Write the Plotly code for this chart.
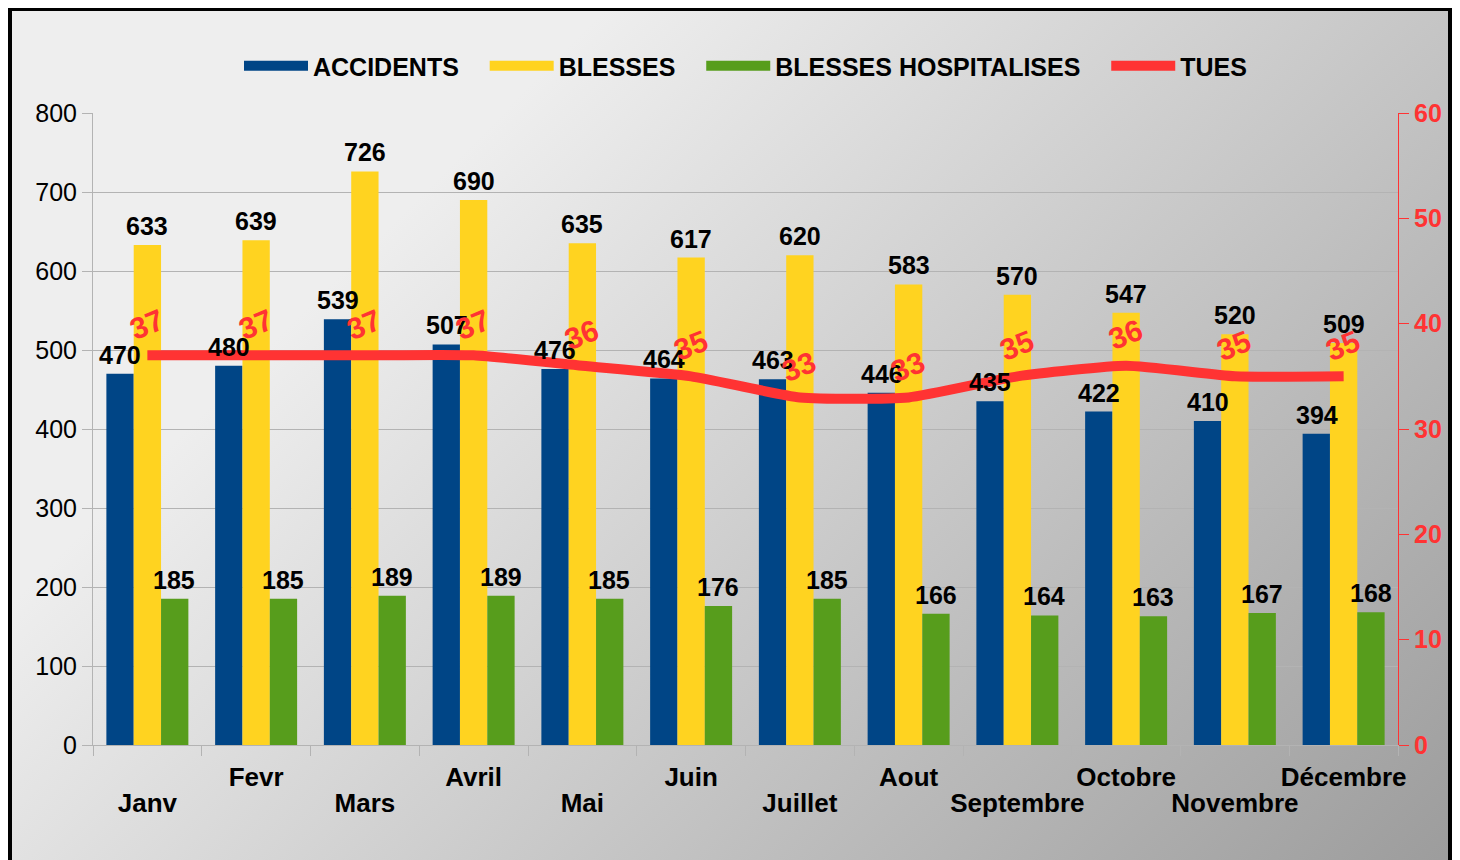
import base64
import plotly.graph_objects as go

months = ["Janv", "Fevr", "Mars", "Avril", "Mai", "Juin", "Juillet", "Aout",
          "Septembre", "Octobre", "Novembre", "Décembre"]
accidents = [470, 480, 539, 507, 476, 464, 463, 446, 435, 422, 410, 394]
blesses = [633, 639, 726, 690, 635, 617, 620, 583, 570, 547, 520, 509]
hospitalises = [185, 185, 189, 189, 185, 176, 185, 166, 164, 163, 167, 168]
tues = [37, 37, 37, 37, 36, 35, 33, 33, 35, 36, 35, 35]

C_BLUE = "#004586"
C_YELLOW = "#ffd320"
C_GREEN = "#579d1c"
C_RED = "#ff3333"
FONT = "Liberation Sans"

# staggered category labels: upper row (odd) on main axis, lower row (even) on overlay axis
upper_text = [m if i % 2 == 1 else "" for i, m in enumerate(months)]
lower_text = [m if i % 2 == 0 else "" for i, m in enumerate(months)]
positions = list(range(len(months)))

# the page places the figure at (8, 8)
W, H = 1452, 852
ML, MR, MT, MB = 85, 62, 105, 115
PW, PH = W - ML - MR, H - MT - MB


def px_x(px):
    return (px - ML) / PW


def px_y(py):
    return (H - MB - py) / PH


# background gradient as an SVG image
BX0, BY0, BX1, BY1 = 0, 0, 1444, 860
bw, bh = BX1 - BX0, BY1 - BY0
svg = (
    f'<svg xmlns="http://www.w3.org/2000/svg" width="{bw}" height="{bh}" '
    f'viewBox="0 0 {bw} {bh}" preserveAspectRatio="none">'
    f'<defs><linearGradient id="g" gradientUnits="userSpaceOnUse" x1="0" y1="0" '
    f'x2="{(bw + bh) / 2:.0f}" y2="{(bw + bh) / 2:.0f}">'
    f'<stop offset="0.26" stop-color="#eeeeee"/>'
    f'<stop offset="1" stop-color="#9c9c9c"/></linearGradient></defs>'
    f'<rect x="0" y="0" width="{bw}" height="{bh}" fill="url(#g)"/></svg>'
)
svg_uri = "data:image/svg+xml;base64," + base64.b64encode(svg.encode()).decode()

fig = go.Figure()

for name, vals, col in [("ACCIDENTS", accidents, C_BLUE),
                        ("BLESSES", blesses, C_YELLOW),
                        ("BLESSES HOSPITALISES", hospitalises, C_GREEN)]:
    fig.add_trace(go.Bar(x=months, y=vals, name=name, marker_color=col,
                         marker_line_width=0, showlegend=False))

fig.add_trace(go.Scatter(x=months, y=tues, name="TUES", yaxis="y2", mode="lines",
                         line=dict(color=C_RED, width=10, shape="spline", smoothing=0.5),
                         showlegend=False))

# invisible carrier so the lower-row label axis is drawn
fig.add_trace(go.Scatter(x=positions, y=[0] * len(positions), xaxis="x2", yaxis="y",
                         mode="markers", marker=dict(opacity=0, size=1),
                         showlegend=False, hoverinfo="skip"))

# legend proxies (wide rectangle-like symbols)
NB = "\u00a0\u00a0\u00a0"
for name, col, w, pad in [("ACCIDENTS", C_BLUE, 16, NB), ("BLESSES", C_YELLOW, 16, NB),
                          ("BLESSES HOSPITALISES", C_GREEN, 16, NB), ("TUES", C_RED, 11, "")]:
    fig.add_trace(go.Scatter(x=[None], y=[None], mode="lines", name=name + pad,
                             line=dict(color=col, width=w), showlegend=True,
                             hoverinfo="skip"))

annotations = []
lbl_font = dict(family=FONT, size=25, color="black", weight="bold")
for vals, shift in [(accidents, -27), (blesses, 0), (hospitalises, 27)]:
    for m, v in zip(months, vals):
        annotations.append(dict(x=m, y=v, xref="x", yref="y", text=str(v),
                                showarrow=False, yanchor="bottom", xshift=shift,
                                yshift=3, font=lbl_font))
for m, v in zip(months, tues):
    annotations.append(dict(x=m, y=v, xref="x", yref="y2", text=str(v),
                            showarrow=False, yanchor="middle", yshift=31, xshift=-1,
                            textangle=-22,
                            font=dict(family=FONT, size=30, color=C_RED, weight="bold")))

month_font = dict(family=FONT, size=26, color="black", weight="bold")

fig.update_layout(
    width=W, height=H,
    margin=dict(l=ML, r=MR, t=MT, b=MB, autoexpand=False),
    paper_bgcolor="white",
    plot_bgcolor="rgba(0,0,0,0)",
    font=dict(family=FONT, size=25, color="black"),
    barmode="group", bargap=0.246, bargroupgap=0,
    showlegend=True,
    legend=dict(orientation="h", x=0.5, xanchor="center", y=px_y(58), yanchor="middle",
                font=dict(family=FONT, size=25, color="black", weight="bold"),
                bgcolor="rgba(0,0,0,0)", itemwidth=64, tracegroupgap=0),
    xaxis=dict(type="category", tickmode="array", tickvals=months, ticktext=upper_text,
               tickangle=0,
               showline=True, linecolor="#b3b3b3", linewidth=1,
               ticks="outside", tickson="boundaries", ticklen=10, tickcolor="#b3b3b3",
               ticklabelstandoff=9,
               tickfont=month_font,
               showgrid=False, zeroline=False),
    xaxis2=dict(type="linear", overlaying="x", anchor="y", side="bottom",
                range=[-0.5, len(months) - 0.5], tickmode="array",
                tickvals=positions, ticktext=lower_text, tickangle=0,
                showline=False, ticks="outside", ticklen=10,
                tickcolor="rgba(0,0,0,0)", ticklabelstandoff=25,
                tickfont=month_font, showgrid=False, zeroline=False),
    yaxis=dict(range=[0, 800], dtick=100, showline=True, linecolor="#b3b3b3",
               ticks="outside", ticklen=10, tickcolor="#b3b3b3",
               showgrid=True, gridcolor="#b3b3b3", gridwidth=1, zeroline=False,
               tickfont=dict(family=FONT, size=25, color="black")),
    yaxis2=dict(range=[0, 60], dtick=10, overlaying="y", side="right",
                showline=True, linecolor=C_RED, ticks="outside", ticklen=10,
                tickcolor=C_RED, showgrid=False, zeroline=False,
                tickfont=dict(family=FONT, size=25, color=C_RED, weight="bold")),
    annotations=annotations,
    images=[dict(source=svg_uri, xref="paper", yref="paper",
                 x=px_x(BX0), y=px_y(BY0), sizex=bw / PW, sizey=bh / PH,
                 xanchor="left", yanchor="top", sizing="stretch", layer="below")],
    shapes=[dict(type="rect", xref="paper", yref="paper",
                 x0=px_x(2), x1=px_x(1442), y0=px_y(870), y1=px_y(1),
                 line=dict(color="black", width=4), fillcolor="rgba(0,0,0,0)",
                 layer="above")],
)

fig.write_html("out.html")
